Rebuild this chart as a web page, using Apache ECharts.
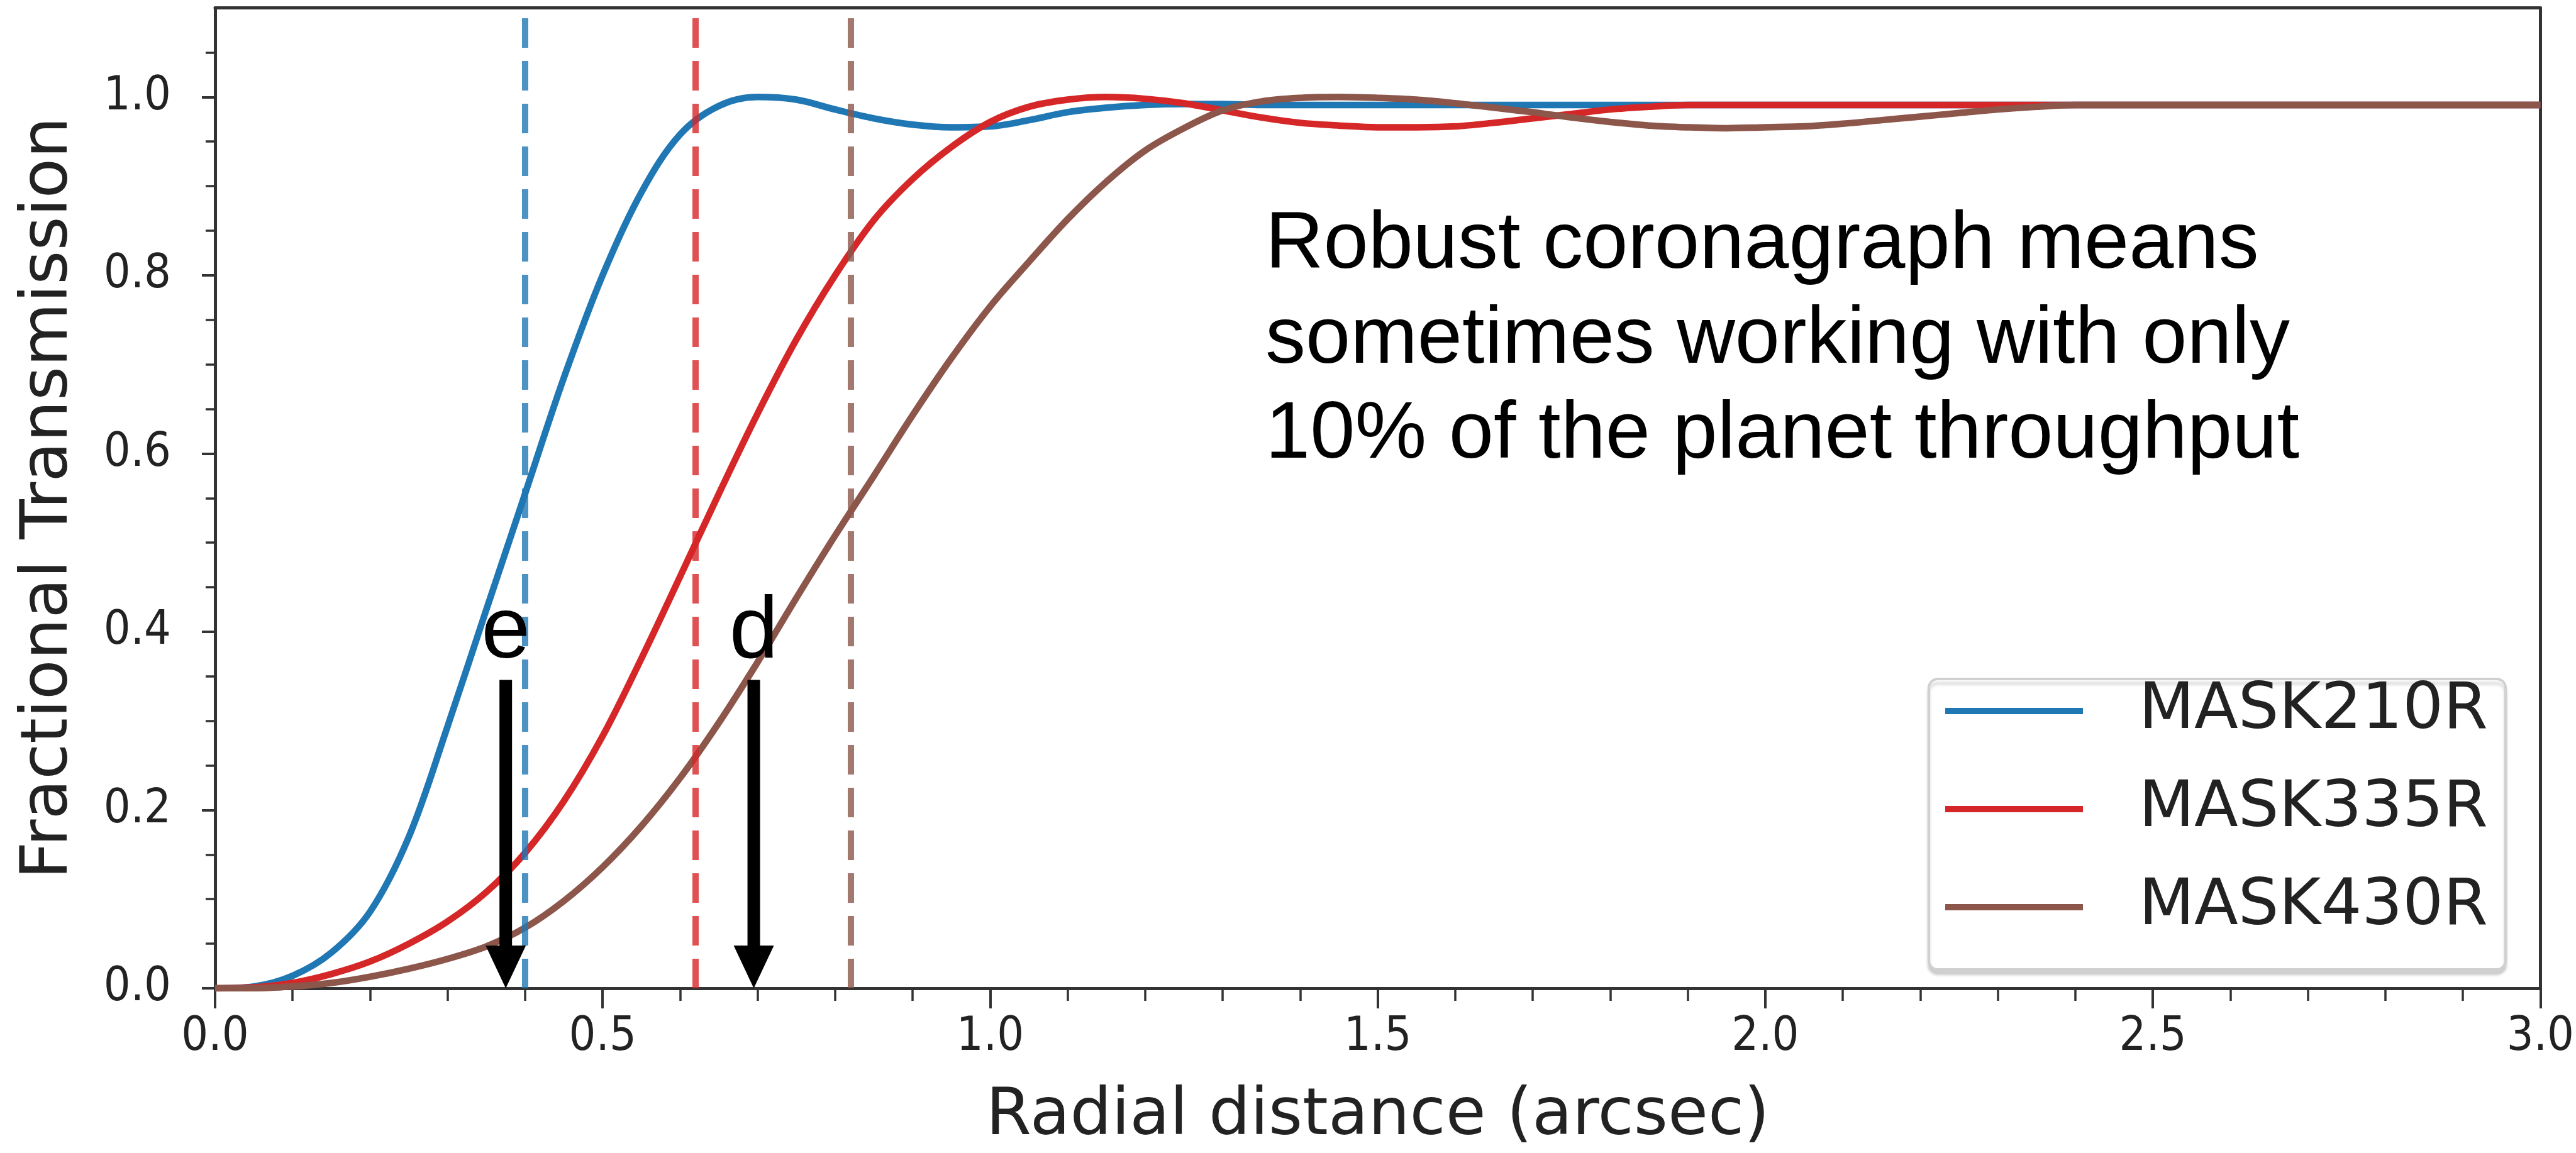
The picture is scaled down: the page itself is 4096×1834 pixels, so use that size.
<!DOCTYPE html>
<html>
<head>
<meta charset="utf-8">
<title>Coronagraph mask transmission</title>
<script src="https://cdn.jsdelivr.net/npm/echarts@6/dist/echarts.min.js"></script>
<style>
  html, body { margin: 0; padding: 0; background: #ffffff; }
  #chart { width: 4096px; height: 1834px; }
</style>
</head>
<body>
<div id="chart"></div>
<script>
// Radial distance samples (arcsec)
const radius = [
  0.00, 0.05, 0.10, 0.15, 0.20, 0.25, 0.30, 0.35, 0.40, 0.45,
  0.50, 0.55, 0.60, 0.65, 0.70, 0.75, 0.80, 0.85, 0.90, 0.95,
  1.00, 1.05, 1.10, 1.15, 1.20, 1.25, 1.30, 1.35, 1.40, 1.45,
  1.50, 1.55, 1.60, 1.65, 1.70, 1.75, 1.80, 1.85, 1.90, 1.95,
  2.00, 2.05, 2.10, 2.15, 2.20, 2.25, 2.30, 2.35, 2.40, 2.45,
  2.50, 2.60, 2.80, 3.00
];

// Fractional transmission of each round coronagraph mask
const mask210r = [
  0.000, 0.002, 0.014, 0.040, 0.086, 0.170, 0.294, 0.425, 0.555, 0.685,
  0.800, 0.893, 0.958, 0.990, 1.000, 0.997, 0.986, 0.976, 0.969, 0.966,
  0.967, 0.974, 0.983, 0.988, 0.991, 0.992, 0.992, 0.991, 0.991, 0.991,
  0.991, 0.991, 0.991, 0.991, 0.991, 0.991, 0.991, 0.991, 0.991, 0.991,
  0.991, 0.991, 0.991, 0.991, 0.991, 0.991, 0.991, 0.991, 0.991, 0.991,
  0.991, 0.991, 0.991, 0.991
];
const mask335r = [
  0.000, 0.001, 0.006, 0.016, 0.030, 0.050, 0.075, 0.108, 0.152, 0.210,
  0.283, 0.370, 0.462, 0.555, 0.645, 0.728, 0.800, 0.862, 0.908, 0.944,
  0.972, 0.989, 0.997, 1.000, 0.998, 0.993, 0.985, 0.977, 0.971, 0.968,
  0.966, 0.966, 0.967, 0.971, 0.976, 0.981, 0.986, 0.989, 0.991, 0.991,
  0.991, 0.991, 0.991, 0.991, 0.991, 0.991, 0.991, 0.991, 0.991, 0.991,
  0.991, 0.991, 0.991, 0.991
];
const mask430r = [
  0.000, 0.000, 0.002, 0.006, 0.013, 0.022, 0.033, 0.047, 0.068, 0.098,
  0.136, 0.182, 0.236, 0.298, 0.366, 0.438, 0.508, 0.575, 0.643, 0.707,
  0.765, 0.815, 0.863, 0.905, 0.940, 0.965, 0.985, 0.995, 0.999, 1.000,
  0.999, 0.997, 0.993, 0.988, 0.983, 0.977, 0.972, 0.968, 0.966, 0.965,
  0.966, 0.967, 0.970, 0.974, 0.978, 0.982, 0.986, 0.989, 0.991, 0.991,
  0.991, 0.991, 0.991, 0.991
];

const maskNames = ['MASK210R', 'MASK335R', 'MASK430R'];
const maskValues = [mask210r, mask335r, mask430r];
// Inner working angle of each mask (arcsec), drawn as dashed verticals
const innerWorkingAngle = [0.40, 0.62, 0.82];

// Planets marked with arrows: separation (arcsec)
const planetNames = ['e', 'd'];
const planetSeparation = [0.375, 0.695];
const arrowTopValue = 0.346;
const planetLabelBaseline = 0.364;

// Axis ticks
const xTickValues = [0.0, 0.5, 1.0, 1.5, 2.0, 2.5, 3.0];
const yTickValues = [0.0, 0.2, 0.4, 0.6, 0.8, 1.0];
const yMinorTickValues = [0.05, 0.10, 0.15, 0.25, 0.30, 0.35, 0.45, 0.50, 0.55,
  0.65, 0.70, 0.75, 0.85, 0.90, 0.95, 1.05];

const noteLines = [
  'Robust coronagraph means',
  'sometimes working with only',
  '10% of the planet throughput'
];

const lineColors = ['#1f77b4', '#d62728', '#8c564b'];
const axisColor = '#333333';
const textColor = '#222222';
const tickFont = "'DejaVu Sans Condensed', 'DejaVu Sans', sans-serif";
const labelFont = "'DejaVu Sans', sans-serif";
const noteFont = "'Liberation Sans', Arial, sans-serif";

const chart = echarts.init(document.getElementById('chart'), null, { renderer: 'canvas' });

const lineSeries = maskNames.map((name, i) => ({
  type: 'line',
  name: name,
  data: radius.map((r, k) => [r, maskValues[i][k]]),
  xAxisIndex: 0,
  yAxisIndex: 0,
  symbol: 'none',
  showSymbol: false,
  smooth: 0.35,
  color: lineColors[i],
  lineStyle: { width: 10.5, color: lineColors[i] },
  emphasis: { disabled: true },
  z: 3,
  markLine: {
    silent: true,
    symbol: ['none', 'none'],
    label: { show: false },
    emphasis: { disabled: true },
    lineStyle: { type: [47, 21], width: 10, color: lineColors[i], opacity: 0.8 },
    data: [{ xAxis: innerWorkingAngle[i] }]
  }
}));

const arrowSeries = {
  type: 'custom',
  name: 'planets',
  coordinateSystem: 'cartesian2d',
  xAxisIndex: 0,
  yAxisIndex: 0,
  silent: true,
  z: 10,
  data: planetSeparation.map(r => [r, arrowTopValue, planetLabelBaseline]),
  encode: { x: 0, y: 1 },
  renderItem: function (params, api) {
    const r = api.value(0);
    const top = api.coord([r, api.value(1)]);
    const tip = api.coord([r, 0]);
    const lab = api.coord([r, api.value(2)]);
    const headLen = 68, headHalf = 32, shaftHalf = 10, labelSize = 140;
    return {
      type: 'group',
      children: [
        {
          type: 'rect',
          shape: { x: top[0] - shaftHalf, y: top[1], width: shaftHalf * 2, height: tip[1] - headLen - top[1] + 1 },
          style: { fill: '#000000' }
        },
        {
          type: 'polygon',
          shape: { points: [[tip[0] - headHalf, tip[1] - headLen], [tip[0] + headHalf, tip[1] - headLen], [tip[0], tip[1]]] },
          style: { fill: '#000000' }
        },
        {
          type: 'text',
          x: lab[0],
          y: lab[1] - 0.3465 * labelSize,
          style: {
            text: planetNames[params.dataIndex],
            font: labelSize + 'px ' + noteFont,
            fill: '#000000',
            align: 'center',
            verticalAlign: 'middle'
          }
        }
      ]
    };
  }
};

const option = {
  backgroundColor: '#ffffff',
  animation: false,
  grid: { left: 342, right: 55.3, top: 12.5, bottom: 254, containLabel: false },
  legend: {
    data: maskNames,
    orient: 'vertical',
    left: 3067,
    top: 1080,
    padding: [0, 28, 48, 26],
    icon: 'rect',
    itemWidth: 219,
    itemHeight: 10,
    itemGap: 54,
    backgroundColor: '#ffffff',
    borderColor: '#d0d0d0',
    borderWidth: 4,
    borderRadius: 14,
    shadowColor: 'rgba(0,0,0,0.16)',
    shadowBlur: 4,
    shadowOffsetY: 7,
    selectedMode: false,
    textStyle: {
      fontFamily: labelFont,
      fontSize: 102,
      lineHeight: 102,
      color: textColor,
      padding: [0, 0, 0, 84]
    }
  },
  xAxis: [
    {
      type: 'value',
      min: 0,
      max: 3,
      interval: 0.5,
      position: 'bottom',
      axisLine: { show: true, onZero: false, lineStyle: { color: axisColor, width: 5 } },
      axisTick: { show: true, inside: false, length: 32, customValues: xTickValues, lineStyle: { color: axisColor, width: 4 } },
      minorTick: { show: true, splitNumber: 5, length: 20, lineStyle: { color: axisColor, width: 3.5 } },
      splitLine: { show: false },
      minorSplitLine: { show: false },
      axisLabel: {
        customValues: xTickValues,
        margin: 41,
        fontFamily: tickFont,
        fontSize: 75,
        color: textColor,
        formatter: v => v.toFixed(1)
      },
      name: 'Radial distance (arcsec)',
      nameLocation: 'middle',
      nameGap: 153,
      nameTextStyle: { fontFamily: labelFont, fontSize: 104, color: textColor }
    },
    {
      type: 'value',
      min: 0,
      max: 3,
      position: 'top',
      axisLine: { show: true, onZero: false, lineStyle: { color: axisColor, width: 5 } },
      axisTick: { show: false },
      axisLabel: { show: false },
      splitLine: { show: false }
    }
  ],
  yAxis: [
    {
      type: 'value',
      min: 0,
      max: 1.1,
      interval: 0.2,
      position: 'left',
      axisLine: { show: true, onZero: false, lineStyle: { color: axisColor, width: 5 } },
      axisTick: { show: true, inside: false, length: 21, customValues: yTickValues, lineStyle: { color: axisColor, width: 4 } },
      splitLine: { show: false },
      axisLabel: {
        customValues: yTickValues,
        margin: 70,
        fontFamily: tickFont,
        fontSize: 75,
        color: textColor,
        formatter: v => (v > 1.05 ? '' : v.toFixed(1))
      },
      name: 'Fractional Transmission',
      nameLocation: 'middle',
      nameGap: 211,
      nameTextStyle: { fontFamily: labelFont, fontSize: 104, color: textColor }
    },
    {
      type: 'value',
      min: 0,
      max: 1.1,
      interval: 0.05,
      position: 'left',
      axisLine: { show: false },
      axisTick: { show: true, inside: false, length: 15, customValues: yMinorTickValues, lineStyle: { color: axisColor, width: 3.5 } },
      axisLabel: { show: false },
      splitLine: { show: false }
    },
    {
      type: 'value',
      min: 0,
      max: 1.1,
      position: 'right',
      axisLine: { show: true, onZero: false, lineStyle: { color: axisColor, width: 5 } },
      axisTick: { show: false },
      axisLabel: { show: false },
      splitLine: { show: false }
    }
  ],
  graphic: [
    {
      type: 'text',
      x: 2012,
      y: 315,
      silent: true,
      style: {
        text: noteLines.join('\n'),
        font: '128px ' + noteFont,
        lineHeight: 151,
        fill: '#000000',
        align: 'left',
        verticalAlign: 'top'
      }
    }
  ],
  series: lineSeries.concat([arrowSeries])
};

chart.setOption(option);
</script>
</body>
</html>
